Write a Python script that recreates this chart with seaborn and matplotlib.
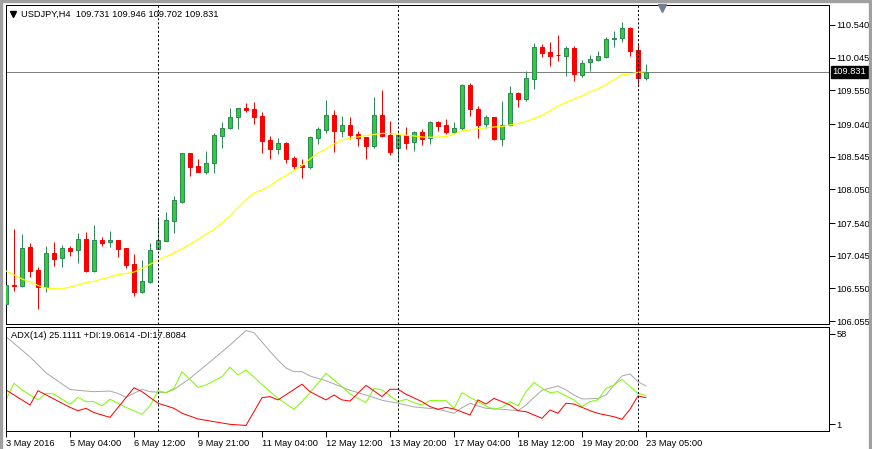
import numpy as np
import pandas as pd
import matplotlib
matplotlib.use("Agg")
import matplotlib.pyplot as plt
import matplotlib.transforms as mtransforms
from matplotlib.lines import Line2D
from matplotlib.patches import Rectangle
import seaborn as sns

# ---------------- data ----------------
opens = [106.309, 106.601, 106.590, 107.172, 106.828, 106.575, 107.082, 107.006, 107.162, 107.127,
         107.294, 106.818, 107.283, 107.248, 107.283, 107.157, 106.919, 106.500, 106.647, 107.151,
         107.272, 107.575, 107.863, 108.597, 108.404, 108.318, 108.445, 108.863, 108.975, 109.142,
         109.278, 109.268, 109.162, 108.798, 108.666, 108.748, 108.530, 108.419, 108.384, 108.833,
         108.949, 109.177, 108.939, 109.025, 108.884, 108.843, 108.712, 109.177, 108.874, 108.672,
         108.874, 108.763, 108.915, 108.824, 109.066, 109.025, 108.924, 108.975, 109.631, 109.263,
         109.040, 109.146, 108.818, 109.021, 109.506, 109.419, 109.727, 110.207, 110.131, 110.086,
         110.075, 110.187, 109.783, 109.975, 110.010, 110.060, 110.324, 110.339, 110.495, 110.162,
         109.731]
highs = [106.707, 107.450, 107.374, 107.238, 106.874, 107.188, 107.253, 107.207, 107.196, 107.389,
         107.404, 107.510, 107.324, 107.419, 107.290, 107.160, 107.071, 106.980, 107.233, 107.636,
         107.703, 107.950, 108.606, 108.601, 108.510, 108.636, 108.900, 109.071, 109.278, 109.290,
         109.354, 109.374, 109.222, 108.859, 108.828, 108.772, 108.556, 108.506, 108.863, 108.999,
         109.404, 109.252, 109.162, 109.146, 108.934, 108.848, 109.449, 109.555, 109.090, 108.900,
         108.995, 108.934, 108.969, 109.086, 109.090, 109.116, 109.066, 109.646, 109.657, 109.309,
         109.172, 109.151, 109.389, 109.616, 109.525, 109.843, 110.268, 110.248, 110.283, 110.389,
         110.222, 110.222, 110.005, 110.086, 110.146, 110.363, 110.449, 110.586, 110.515, 110.263,
         109.946]
lows = [106.121, 106.515, 106.571, 106.727, 106.242, 106.500, 106.894, 106.878, 107.041, 106.939,
        106.798, 106.798, 107.192, 107.181, 107.030, 106.863, 106.439, 106.485, 106.636, 107.148,
        107.270, 107.389, 107.848, 108.257, 108.315, 108.283, 108.294, 108.681, 108.960, 108.960,
        109.227, 109.040, 108.606, 108.506, 108.581, 108.445, 108.359, 108.227, 108.354, 108.737,
        108.909, 108.616, 108.848, 108.809, 108.712, 108.510, 108.681, 108.839, 108.571, 108.465,
        108.666, 108.636, 108.722, 108.737, 108.934, 108.889, 108.884, 108.949, 109.162, 108.833,
        108.980, 108.798, 108.712, 109.010, 109.302, 109.393, 109.575, 110.060, 109.924, 109.995,
        109.772, 109.696, 109.757, 109.848, 109.995, 110.036, 110.211, 110.287, 110.075, 109.627,
        109.702]
closes = [106.601, 106.590, 107.157, 106.818, 106.575, 107.082, 107.000, 107.157, 107.121, 107.294,
          106.813, 107.278, 107.242, 107.283, 107.151, 106.904, 106.500, 106.657, 107.131, 107.283,
          107.581, 107.884, 108.597, 108.393, 108.318, 108.445, 108.874, 108.984, 109.142, 109.287,
          109.257, 109.151, 108.787, 108.662, 108.748, 108.515, 108.409, 108.384, 108.848, 108.965,
          109.177, 108.934, 109.025, 108.874, 108.833, 108.707, 109.177, 108.859, 108.616, 108.874,
          108.757, 108.924, 108.818, 109.071, 109.015, 108.924, 108.980, 109.631, 109.263, 109.025,
          109.151, 108.813, 109.021, 109.506, 109.424, 109.733, 110.202, 110.121, 110.075, 110.080,
          110.187, 109.793, 109.960, 110.025, 110.071, 110.328, 110.348, 110.495, 110.151, 109.733,
          109.831]
ma_values = [106.813, 106.753, 106.692, 106.647, 106.594, 106.556, 106.545, 106.541, 106.571, 106.601,
             106.639, 106.654, 106.692, 106.721, 106.760, 106.775, 106.798, 106.851, 106.912, 106.980,
             107.030, 107.086, 107.147, 107.220, 107.291, 107.370, 107.442, 107.540, 107.647, 107.770,
             107.889, 107.995, 108.041, 108.101, 108.192, 108.260, 108.336, 108.412, 108.510, 108.601,
             108.662, 108.737, 108.798, 108.824, 108.843, 108.866, 108.881, 108.897, 108.897, 108.881,
             108.869, 108.859, 108.843, 108.839, 108.843, 108.848, 108.889, 108.934, 108.949, 108.972,
             108.984, 108.995, 109.003, 109.025, 109.048, 109.078, 109.124, 109.169, 109.237, 109.313,
             109.366, 109.419, 109.465, 109.525, 109.571, 109.637, 109.712, 109.787, 109.800, 109.821,
             109.836]

adx_idx = [0, 3, 5, 8, 10, 11, 13, 14, 15, 17, 18, 20, 21, 23, 26, 28, 30, 31, 33, 34,
           35, 36, 37, 38, 40, 43, 45, 47, 49, 51, 54, 56, 57, 58, 59, 60, 62, 64, 65, 66,
           67, 69, 70, 71, 72, 74, 75, 76, 77, 78, 79, 80]
adx_vals = [56.3, 43.5, 33.5, 23.0, 22.0, 21.6, 22.0, 20.5, 18.0, 23.1, 21.6, 21.0, 23.0, 30.0, 42.5, 51.0, 60.1, 58.8, 47.0, 41.5,
            36.5, 34.2, 34.2, 31.5, 28.5, 22.5, 19.5, 16.2, 14.3, 12.0, 10.5, 8.0, 11.5, 14.3, 12.6, 11.1, 10.5, 9.6, 13.2, 18.0,
            22.5, 25.2, 22.7, 19.5, 17.0, 17.3, 19.5, 25.8, 31.5, 32.8, 27.9, 25.11]
pdi_idx = [0, 1, 2, 3, 4, 5, 6, 8, 9, 10, 11, 12, 13, 15, 17, 18, 19, 20, 21, 22,
           23, 24, 25, 27, 28, 29, 30, 33, 34, 36, 37, 39, 40, 41, 42, 43, 45, 46, 47, 49,
           50, 51, 52, 53, 55, 56, 57, 58, 59, 60, 61, 62, 63, 64, 65, 66, 67, 68, 69, 70,
           71, 72, 73, 74, 75, 76, 77, 78, 79, 80]
pdi_vals = [16.4, 26.9, 22.7, 19.5, 16.4, 20.6, 20.1, 13.6, 18.0, 15.3, 15.3, 12.6, 16.8, 11.7, 7.3, 12.6, 22.2, 21.0, 23.7, 34.2,
            29.4, 24.3, 25.8, 31.1, 37.0, 32.1, 35.3, 21.6, 17.4, 10.5, 15.3, 26.9, 33.2, 29.0, 24.8, 20.1, 14.7, 23.7, 22.7, 15.3,
            16.8, 14.7, 13.2, 16.0, 15.9, 11.1, 21.0, 18.0, 15.3, 12.6, 10.5, 11.7, 15.3, 12.6, 21.6, 27.5, 23.7, 21.0, 21.6, 18.9,
            16.4, 12.2, 15.3, 16.5, 23.7, 25.8, 29.4, 24.8, 20.6, 19.06]
mdi_idx = [0, 3, 4, 8, 9, 10, 11, 13, 16, 17, 19, 21, 22, 24, 26, 28, 30, 32, 33, 34,
           37, 38, 40, 41, 42, 43, 45, 47, 48, 49, 50, 52, 53, 54, 55, 56, 58, 59, 60, 61,
           63, 64, 65, 67, 68, 69, 70, 71, 72, 73, 74, 76, 77, 78, 79, 80]
mdi_vals = [22.7, 13.2, 22.2, 11.7, 9.6, 11.1, 8.4, 5.4, 24.1, 21.6, 14.3, 11.1, 8.0, 4.4, 2.7, 1.0, 0.3, 17.8, 18.5, 16.4,
            26.3, 21.6, 16.4, 19.5, 16.4, 15.7, 25.6, 18.5, 23.1, 23.1, 20.0, 15.3, 12.2, 10.5, 11.7, 10.7, 6.9, 16.4, 13.8, 17.4,
            13.2, 9.6, 9.0, 4.8, 10.0, 8.0, 14.3, 13.8, 11.7, 9.6, 7.9, 5.8, 4.2, 10.5, 18.9, 17.81]

price_ticks = [110.540, 110.045, 109.550, 109.040, 108.545, 108.050, 107.540, 107.045, 106.550, 106.055]
adx_ticks = [58, 1]
x_tick_bars = [0, 8, 16, 24, 32, 40, 48, 56, 64, 72, 80]
x_tick_labels = ["3 May 2016", "5 May 04:00", "6 May 12:00", "9 May 21:00", "11 May 04:00",
                 "12 May 12:00", "13 May 20:00", "17 May 04:00", "18 May 12:00", "19 May 20:00",
                 "23 May 05:00"]
separator_bars = [19, 49, 79]
last_price = 109.831
title_text = "USDJPY,H4  109.731 109.946 109.702 109.831"
adx_text = "ADX(14) 25.1111 +DI:19.0614 -DI:17.8084"
shift_marker_bar = 82

# ---------------- style ----------------
sns.set_style("white")
plt.rcParams['font.family'] = ['Liberation Sans', 'DejaVu Sans']
plt.rcParams['lines.scale_dashes'] = False
FS = 6.7
PX = 0.72  # one pixel in points at dpi 100

W, H = 872, 449
fig = plt.figure(figsize=(W / 100, H / 100), dpi=100)
fig.patch.set_facecolor("white")


def px_rect(l, t, r, b):
    return [l / W, 1 - b / H, (r - l) / W, (b - t) / H]


ax = fig.add_axes(px_rect(5.5, 5, 829, 324))
ax2 = fig.add_axes(px_rect(5.5, 326.5, 829, 431))

df = pd.DataFrame({"bar": np.arange(len(opens)), "open": opens, "high": highs,
                   "low": lows, "close": closes, "ma": ma_values})
up = df["close"] >= df["open"]
GREEN_FACE = "#32CD32"
GREEN_EDGE = "#2E8B57"
RED = "#FF0000"

# wicks
ax.vlines(df["bar"], df["low"], df["high"],
          colors=np.where(up, GREEN_EDGE, RED), linewidth=PX, zorder=2)
# bodies
body_bottom = np.minimum(df["open"], df["close"])
body_height = np.maximum((df["close"] - df["open"]).abs(), 0.004)
ax.bar(df["bar"], body_height, bottom=body_bottom, width=0.52,
       color=np.where(up, GREEN_FACE, RED), edgecolor=np.where(up, GREEN_EDGE, RED),
       linewidth=PX, zorder=3)

# moving average
sns.lineplot(data=df, x="bar", y="ma", ax=ax, color="#FFFF00", linewidth=0.85,
             estimator=None, zorder=4)

# current price line + label
ax.axhline(last_price, color="#808080", linewidth=PX, zorder=1)
trans = mtransforms.blended_transform_factory(ax.transAxes, ax.transData)
ax.text(1.0 + 3.5 / 823.5, last_price, f"{last_price:.3f}", transform=trans,
        ha="left", va="center", color="white", fontsize=FS, clip_on=False,
        bbox=dict(boxstyle="square,pad=0.15", fc="black", ec="black"), zorder=10)

# chart shift marker
ax.plot([shift_marker_bar], [110.805], marker="v", ms=5.5, color="#708090",
        clip_on=False, zorder=10, linestyle="none")

# ADX panel
adx_df = pd.DataFrame({"bar": adx_idx, "val": adx_vals})
pdi_df = pd.DataFrame({"bar": pdi_idx, "val": pdi_vals})
mdi_df = pd.DataFrame({"bar": mdi_idx, "val": mdi_vals})
sns.lineplot(data=adx_df, x="bar", y="val", ax=ax2, color="#A9A9A9", linewidth=PX, estimator=None)
sns.lineplot(data=pdi_df, x="bar", y="val", ax=ax2, color="#7CFC00", linewidth=PX, estimator=None)
sns.lineplot(data=mdi_df, x="bar", y="val", ax=ax2, color="#FF0000", linewidth=PX, estimator=None)

# separators
for a in (ax, ax2):
    for b in separator_bars:
        a.axvline(b, color="black", linewidth=PX, linestyle=(0, (1.5, 1.5)), zorder=5)

# limits
xl = (-0.0625, 102.875)
ax.set_xlim(*xl)
ax2.set_xlim(*xl)
ax.set_ylim(106.010, 110.843)
ax2.set_ylim(-3.2, 62.7)

for a in (ax, ax2):
    a.set_xlabel("")
    a.set_ylabel("")
    for s in a.spines.values():
        s.set_color("black")
        s.set_linewidth(PX)
    a.yaxis.tick_right()
    a.tick_params(axis="y", direction="out", length=4, width=PX, pad=1.5,
                  labelsize=FS, colors="black", right=True, left=False)

ax.set_xticks([])
ax.set_yticks(price_ticks)
ax.set_yticklabels([f"{v:.3f}" for v in price_ticks])

ax2.set_yticks(adx_ticks)
ax2.set_yticklabels([str(v) for v in adx_ticks])
ax2.set_xticks(x_tick_bars)
ax2.set_xticklabels(x_tick_labels, ha="left")
ax2.tick_params(axis="x", direction="out", length=4, width=PX, pad=1.5,
                labelsize=FS, colors="black", bottom=True)

# texts
fig.text(21 / W, 1 - 14.5 / H, title_text, fontsize=FS, va="center", ha="left", color="black")
fig.add_artist(Line2D([13 / W], [1 - 13.7 / H], marker="v", ms=4.2, color="black",
                      linestyle="none", transform=fig.transFigure))
fig.text(11 / W, 1 - 335.5 / H, adx_text, fontsize=FS, va="center", ha="left", color="black")

# window frame
fig.add_artist(Rectangle((0, 0), 2 / W, 1, transform=fig.transFigure, color="#A0A0A0", zorder=20))
fig.add_artist(Rectangle((0, 1 - 1.5 / H), 1, 1.5 / H, transform=fig.transFigure, color="#A0A0A0", zorder=20))
fig.add_artist(Rectangle((869 / W, 0), 2 / W, 1, transform=fig.transFigure, color="#A0A0A0", zorder=20))

fig.savefig("out.png", dpi=100)
